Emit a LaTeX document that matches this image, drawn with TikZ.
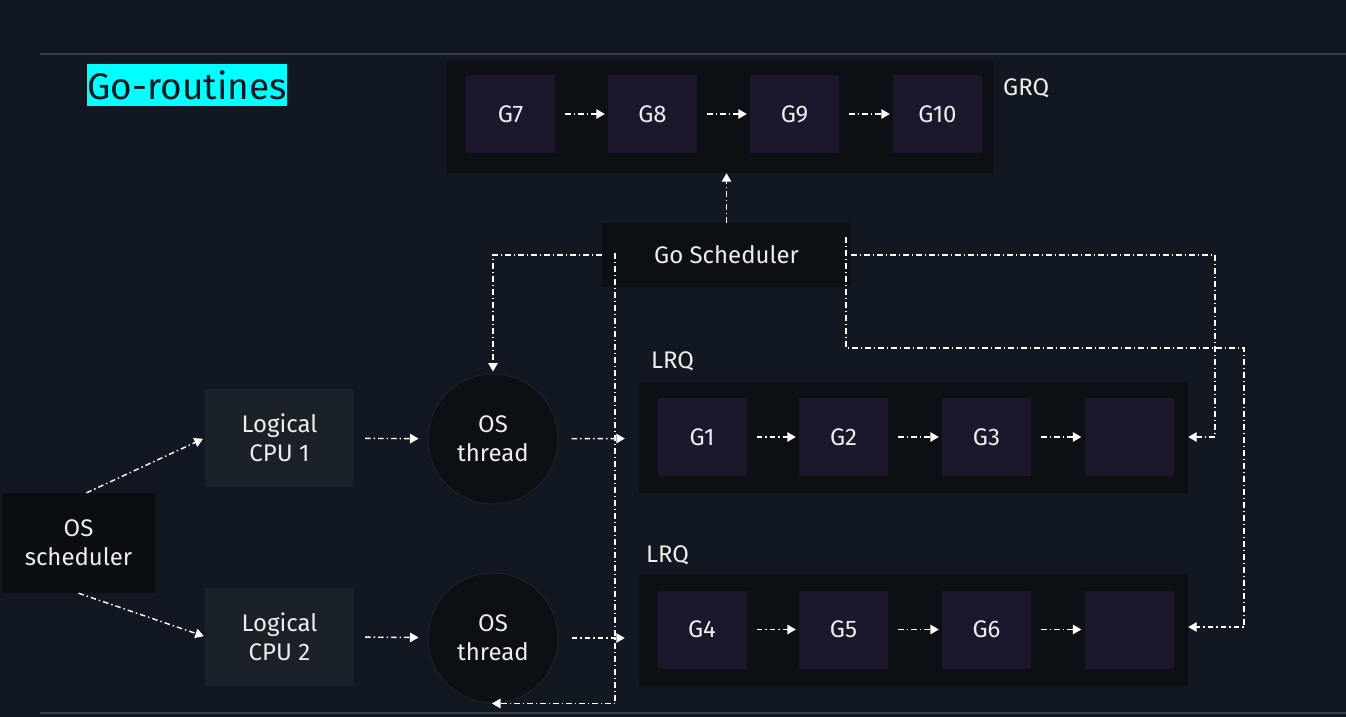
\documentclass[tikz,border=0pt]{standalone}
\usepackage{fontspec}
\setmainfont{Fira Sans}
\usetikzlibrary{arrows.meta}
\definecolor{bgnavy}{HTML}{121821}
\definecolor{qdark}{HTML}{0C0F14}
\definecolor{gpurple}{HTML}{1B172C}
\definecolor{cpugray}{HTML}{1A2129}
\definecolor{osdark}{HTML}{0A0D11}
\definecolor{ringgray}{HTML}{1D232C}
\definecolor{rulegray}{HTML}{363E49}
\definecolor{txt}{HTML}{EDEDED}
\definecolor{cyanhl}{HTML}{00FFFF}
\begin{document}
\begin{tikzpicture}[x=1pt,y=-1pt,
  queue/.style={fill=qdark, minimum width=549pt, minimum height=112pt, inner sep=0pt},
  gbox/.style={fill=gpurple, minimum width=89pt, minimum height=78pt, inner sep=0pt, text=txt, font=\fontsize{24}{29}\selectfont},
  lbl/.style={anchor=base west, inner sep=0pt, text=txt, font=\fontsize{24}{29}\selectfont},
  sched/.style={fill=qdark, minimum width=249pt, minimum height=64pt, inner sep=0pt, text=txt, font=\fontsize{24}{29}\selectfont},
  cpu/.style={fill=cpugray, minimum width=149pt, minimum height=98pt, inner sep=0pt, align=center, text=txt, font=\fontsize{24}{29}\selectfont},
  thread/.style={circle, fill=qdark, draw=ringgray, line width=1pt, minimum size=130pt, inner sep=0pt, align=center, text=txt, font=\fontsize{24}{29}\selectfont},
  flow/.style={draw=white, line width=1.4pt, dash pattern=on 5.5pt off 3pt on 1.5pt off 3pt, -{Triangle[length=8.5pt,width=9.5pt]}},
  hop/.style={flow, shorten <=10pt, shorten >=3pt}
]
\useasboundingbox (0,0) rectangle (1346,717);
\fill[bgnavy] (0,0) rectangle (1346,717);
\draw[rulegray, line width=2pt] (40,54) -- (1346,54);
\draw[rulegray, line width=2pt] (40,713) -- (1346,713);
%%%%
\node[fill=cyanhl, text=bgnavy, minimum width=198pt, minimum height=42pt, inner sep=0pt, font=\fontsize{37}{40}\selectfont] (title) at (187,85) {Go-routines};
%%%% global run queue
\node[queue, minimum width=548pt] (grq) at (720,117) {};
\node[gbox] (g7) at (510.5,114) {G7};
\node[gbox] (g8) at (652.5,114) {G8};
\node[gbox] (g9) at (794.5,114) {G9};
\node[gbox] (g10) at (937.5,114) {G10};
\node[lbl] (grqlbl) at (1003,95) {GRQ};
\draw[hop] (g7) -- (g8);
\draw[hop] (g8) -- (g9);
\draw[hop] (g9) -- (g10);
%%%% local run queues
\node[queue, minimum height=111pt] (lrqa) at (913.5,437.5) {};
\node[lbl] (lrqalbl) at (651,368) {LRQ};
\node[gbox] (g1) at (702,437) {G1};
\node[gbox] (g2) at (843.5,437) {G2};
\node[gbox] (g3) at (986.5,437) {G3};
\node[gbox] (gfreea) at (1129,437) {};
\draw[hop] (g1) -- (g2);
\draw[hop] (g2) -- (g3);
\draw[hop] (g3) -- (gfreea);
\node[queue] (lrqb) at (913.5,630) {};
\node[lbl] (lrqblbl) at (646,562) {LRQ};
\node[gbox] (g4) at (702,629.5) {G4};
\node[gbox] (g5) at (843.5,629.5) {G5};
\node[gbox] (g6) at (986.5,629.5) {G6};
\node[gbox] (gfreeb) at (1129,629.5) {};
\draw[hop] (g4) -- (g5);
\draw[hop] (g5) -- (g6);
\draw[hop] (g6) -- (gfreeb);
%%%% os side
\node[cpu, fill=osdark, minimum width=153pt, minimum height=100pt] (os) at (78.5,543) {OS\\scheduler};
\node[cpu] (cpua) at (279.5,438) {Logical\\CPU 1};
\node[cpu] (cpub) at (279.5,636.5) {Logical\\CPU 2};
\node[thread] (ota) at (493,439) {OS\\thread};
\node[thread] (otb) at (493,638) {OS\\thread};
\draw[flow, shorten >=2pt] ([xshift=8pt]os.north) -- (cpua.west);
\draw[flow, shorten >=1pt] (os.south) -- (cpub.west);
\draw[flow, shorten <=11pt, shorten >=9pt] (cpua) -- (ota);
\draw[flow, shorten <=11pt, shorten >=9pt] (cpub) -- (otb);
\draw[flow, shorten <=13pt, shorten >=14pt] (ota) -- (lrqa);
\draw[flow, shorten <=13pt, shorten >=14pt] (otb.east) -- (otb.east -| lrqb.west);
%%%% go scheduler
\node[sched] (gs) at (726.5,255) {Go Scheduler};
\coordinate (gsdown) at (615,253);
\coordinate (gsright) at (846,237);
\coordinate (turna) at (1215,437);
\coordinate (bendb) at (1244,348);
\coordinate (turnb) at (1244,627);
\draw[flow] (gs.north) -- (gs.north |- grq.south);
\draw[flow, shorten >=2pt] (gs.west) -| (ota.north);
\draw[flow] (gs.east) -| (turna) -- (lrqa.east |- turna);
\draw[flow] (gsright) |- (bendb) -- (turnb) -- (lrqb.east |- turnb);
\draw[flow, shorten >=-1pt] (gsdown) |- (otb.south);
\end{tikzpicture}
\end{document}
